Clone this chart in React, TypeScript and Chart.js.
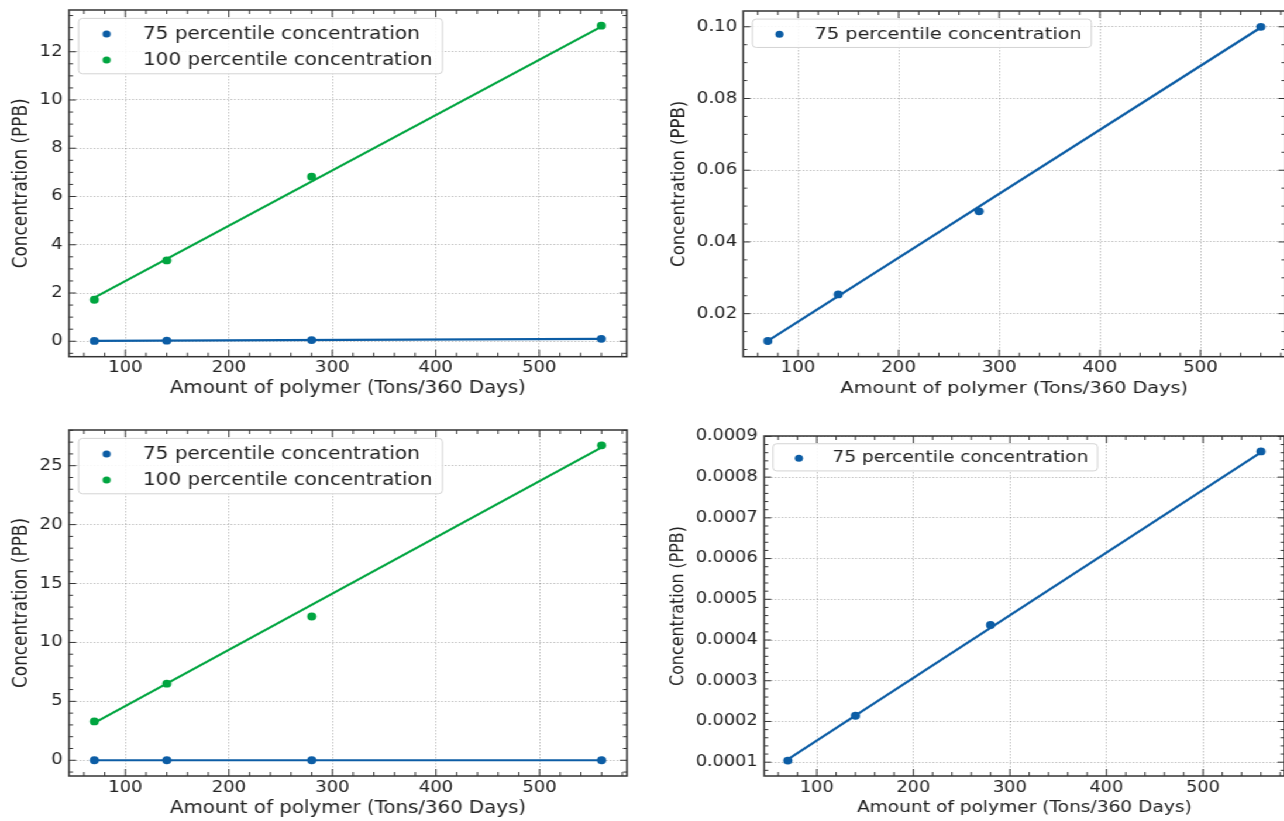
import React, { useEffect, useRef } from 'react';
import { Chart, registerables } from 'chart.js';

Chart.register(...registerables);
Chart.defaults.font.family = "'DejaVu Sans', 'Noto Sans', sans-serif";
Chart.defaults.color = '#222222';

// horizontal stretch of the reference picture
const SX = 1.17;

const BLUE = '#0C5DA5';
const GREEN = '#00A540';
const INK = '#222222';
const FRAME = '#333333';
const GRID = 'rgba(0,0,0,0.24)';

const LABEL_P75 = '75 percentile concentration';
const LABEL_P100 = '100 percentile concentration';
const X_TITLE = 'Amount of polymer (Tons/360 Days)';
const Y_TITLE = 'Concentration (PPB)';

// ---- data ----
const POLYMER_TONS = [70, 140, 280, 560];
const FIT_TONS = [70, 560];
const X_RANGE = [45.5, 584.5];
const X_TICKS = [100, 200, 300, 400, 500];
const X_TICK_LABELS = ['100', '200', '300', '400', '500'];

// Panel A (top-left)
const A_P75 = [0.0124, 0.0254, 0.0487, 0.1];
const A_P100 = [1.72, 3.35, 6.82, 13.08];
const A_P75_FIT = [0.0124, 0.0998];
const A_P100_FIT = [1.81, 13.04];
const A_Y_RANGE = [-0.64, 13.73];
const A_Y_TICKS = [0, 2, 4, 6, 8, 10, 12];
const A_Y_TICK_LABELS = ['0', '2', '4', '6', '8', '10', '12'];

// Panel B (top-right)
const B_P75 = [0.01238, 0.02537, 0.04854, 0.1];
const B_P75_FIT = [0.0124, 0.0998];
const B_Y_RANGE = [0.008, 0.1044];
const B_Y_TICKS = [0.02, 0.04, 0.06, 0.08, 0.1];
const B_Y_TICK_LABELS = ['0.02', '0.04', '0.06', '0.08', '0.10'];

// Panel C (bottom-left)
const C_P75 = [0.000104, 0.000214, 0.000437, 0.000863];
const C_P100 = [3.3, 6.5, 12.2, 26.73];
const C_P75_FIT = [0.000107, 0.000861];
const C_P100_FIT = [3.17, 26.56];
const C_Y_RANGE = [-1.335, 28.03];
const C_Y_TICKS = [0, 5, 10, 15, 20, 25];
const C_Y_TICK_LABELS = ['0', '5', '10', '15', '20', '25'];

// Panel D (bottom-right)
const D_P75 = [0.000104, 0.000214, 0.000437, 0.000863];
const D_P75_FIT = [0.000107, 0.000861];
const D_Y_RANGE = [0.0000661, 0.000901];
const D_Y_TICKS = [0.0001, 0.0002, 0.0003, 0.0004, 0.0005, 0.0006, 0.0007, 0.0008, 0.0009];
const D_Y_TICK_LABELS = ['0.0001', '0.0002', '0.0003', '0.0004', '0.0005', '0.0006', '0.0007', '0.0008', '0.0009'];

type Series = { label?: string; xs: number[]; ys: number[]; color: string; fit: boolean };

type PanelDef = {
  left: number; top: number; width: number; height: number;
  plotLeft: number; plotRight: number; plotTop: number; plotBottom: number;
  yTitleX: number; xTitleY: number; xLabelOffset: number; yLabelGap: number;
  tickFont: number; titleFont: number; legendFont: number;
  yRange: number[]; yTicks: number[]; yTickLabels: string[];
  series: Series[];
};

const PANELS: PanelDef[] = [
  {
    left: 0, top: 0, width: 640, height: 402,
    plotLeft: 69, plotRight: 626.7, plotTop: 10, plotBottom: 356.7,
    yTitleX: 21.5, xTitleY: 389, xLabelOffset: 11.6, yLabelGap: 6.5,
    tickFont: 15.4, titleFont: 16.9, legendFont: 17.1,
    yRange: A_Y_RANGE, yTicks: A_Y_TICKS, yTickLabels: A_Y_TICK_LABELS,
    series: [
      { label: LABEL_P75, xs: POLYMER_TONS, ys: A_P75, color: BLUE, fit: false },
      { label: LABEL_P100, xs: POLYMER_TONS, ys: A_P100, color: GREEN, fit: false },
      { xs: FIT_TONS, ys: A_P75_FIT, color: BLUE, fit: true },
      { xs: FIT_TONS, ys: A_P100_FIT, color: GREEN, fit: true },
    ],
  },
  {
    left: 660, top: 0, width: 640, height: 402,
    plotLeft: 743.3, plotRight: 1285.6, plotTop: 11, plotBottom: 356.7,
    yTitleX: 679.4, xTitleY: 389, xLabelOffset: 11.6, yLabelGap: 6,
    tickFont: 15.5, titleFont: 16.5, legendFont: 16.5,
    yRange: B_Y_RANGE, yTicks: B_Y_TICKS, yTickLabels: B_Y_TICK_LABELS,
    series: [
      { label: LABEL_P75, xs: POLYMER_TONS, ys: B_P75, color: BLUE, fit: false },
      { xs: FIT_TONS, ys: B_P75_FIT, color: BLUE, fit: true },
    ],
  },
  {
    left: 0, top: 420, width: 640, height: 401,
    plotLeft: 69, plotRight: 627, plotTop: 430, plotBottom: 776,
    yTitleX: 21.5, xTitleY: 808.5, xLabelOffset: 11.6, yLabelGap: 6.5,
    tickFont: 15.4, titleFont: 16.9, legendFont: 17.1,
    yRange: C_Y_RANGE, yTicks: C_Y_TICKS, yTickLabels: C_Y_TICK_LABELS,
    series: [
      { label: LABEL_P75, xs: POLYMER_TONS, ys: C_P75, color: BLUE, fit: false },
      { label: LABEL_P100, xs: POLYMER_TONS, ys: C_P100, color: GREEN, fit: false },
      { xs: FIT_TONS, ys: C_P75_FIT, color: BLUE, fit: true },
      { xs: FIT_TONS, ys: C_P100_FIT, color: GREEN, fit: true },
    ],
  },
  {
    left: 660, top: 420, width: 640, height: 401,
    plotLeft: 764.3, plotRight: 1284.7, plotTop: 436, plotBottom: 776,
    yTitleX: 679, xTitleY: 808, xLabelOffset: 12, yLabelGap: 6.6,
    tickFont: 15.1, titleFont: 15.9, legendFont: 15.8,
    yRange: D_Y_RANGE, yTicks: D_Y_TICKS, yTickLabels: D_Y_TICK_LABELS,
    series: [
      { label: LABEL_P75, xs: POLYMER_TONS, ys: D_P75, color: BLUE, fit: false },
      { xs: FIT_TONS, ys: D_P75_FIT, color: BLUE, fit: true },
    ],
  },
];

function minorValues(min: number, max: number, step: number): number[] {
  const exp = Math.floor(Math.log10(step));
  const mant = step / Math.pow(10, exp);
  const ndiv = [1, 2.5, 5, 10].some((v) => Math.abs(mant - v) < 1e-6) ? 5 : 4;
  const m = step / ndiv;
  const out: number[] = [];
  const k0 = Math.ceil(min / m - 1e-9);
  const k1 = Math.floor(max / m + 1e-9);
  for (let k = k0; k <= k1; k++) {
    const v = k * m;
    const r = v / step;
    if (Math.abs(r - Math.round(r)) < 1e-6) continue;
    out.push(v);
  }
  return out;
}

function makeDecor(p: PanelDef) {
  return {
    id: 'decor',
    afterDatasetsDraw(chart: any) {
      const { ctx, chartArea: a } = chart;
      const xs = chart.scales.x;
      const ys = chart.scales.y;
      ctx.save();
      ctx.strokeStyle = FRAME;
      ctx.lineWidth = 1;
      ctx.beginPath();
      const vTick = (v: number, len: number) => {
        const px = xs.getPixelForValue(v);
        if (px < a.left - 0.5 || px > a.right + 0.5) return;
        ctx.moveTo(px, a.bottom);
        ctx.lineTo(px, a.bottom - len);
        ctx.moveTo(px, a.top);
        ctx.lineTo(px, a.top + len);
      };
      const hTick = (v: number, len: number) => {
        const py = ys.getPixelForValue(v);
        if (py < a.top - 0.5 || py > a.bottom + 0.5) return;
        ctx.moveTo(a.left, py);
        ctx.lineTo(a.left + len, py);
        ctx.moveTo(a.right, py);
        ctx.lineTo(a.right - len, py);
      };
      X_TICKS.forEach((v) => vTick(v, 7));
      minorValues(xs.min, xs.max, X_TICKS[1] - X_TICKS[0]).forEach((v) => vTick(v, 4));
      p.yTicks.forEach((v) => hTick(v, 6));
      minorValues(ys.min, ys.max, p.yTicks[1] - p.yTicks[0]).forEach((v) => hTick(v, 3.4));
      ctx.stroke();
      ctx.lineWidth = 1.5;
      ctx.strokeRect(a.left, a.top, a.right - a.left, a.bottom - a.top);
      ctx.restore();
    },
    afterDraw(chart: any) {
      const { ctx, chartArea: a } = chart;
      const f = p.legendFont;
      const items = p.series.filter((s) => !s.fit && s.label);
      ctx.save();
      ctx.font = `${f}px 'DejaVu Sans', sans-serif`;
      const maxW = Math.max(...items.map((s) => ctx.measureText(s.label as string).width));
      const bx = a.left + 0.48 * f;
      const by = a.top + 0.49 * f;
      const rowH = 1.52 * f;
      const textX = a.left + 3.7 * f;
      const markX = a.left + 1.88 * f;
      const bw = textX + maxW + 0.5 * f - bx;
      const bh = 0.9 * f + (items.length - 1) * rowH + 0.82 * f;
      ctx.beginPath();
      if ((ctx as any).roundRect) (ctx as any).roundRect(bx, by, bw, bh, 0.2 * f);
      else ctx.rect(bx, by, bw, bh);
      ctx.fillStyle = 'rgba(255,255,255,0.85)';
      ctx.fill();
      ctx.strokeStyle = '#d4d4d4';
      ctx.lineWidth = 1;
      ctx.stroke();
      items.forEach((s, i) => {
        const cy = by + 0.92 * f + i * rowH;
        ctx.beginPath();
        ctx.fillStyle = s.color;
        ctx.arc(markX, cy, 3.5, 0, Math.PI * 2);
        ctx.fill();
        ctx.fillStyle = INK;
        ctx.textAlign = 'left';
        ctx.textBaseline = 'middle';
        ctx.fillText(s.label as string, textX, cy);
      });
      ctx.restore();
    },
  };
}

function PanelChart({ p }: { p: PanelDef }) {
  const ref = useRef<HTMLCanvasElement>(null);
  useEffect(() => {
    if (!ref.current) return;
    const yScaleWidth = (p.plotLeft - p.left) / SX;
    const padRight = (p.left + p.width - p.plotRight) / SX;
    const padTop = p.plotTop - p.top;
    const xScaleHeight = p.top + p.height - p.plotBottom;
    const yTitlePad = (p.yTitleX - p.left) / SX - p.titleFont * 0.6;
    const xTitlePad = p.top + p.height - p.xTitleY - p.titleFont * 0.6;
    const xTickPad = p.xLabelOffset - p.tickFont * 0.6;
    const yTickPad = p.yLabelGap / SX;

    const datasets = p.series.map((s) => ({
      label: s.label ?? '',
      data: s.xs.map((x, i) => ({ x, y: s.ys[i] })),
      showLine: s.fit,
      borderColor: s.color,
      backgroundColor: s.color,
      borderWidth: s.fit ? 2.2 : 0,
      pointRadius: s.fit ? 0 : 3.9,
      pointBorderWidth: 0,
      pointBackgroundColor: s.color,
      order: s.fit ? 1 : 0,
    }));

    const chart = new Chart(ref.current, {
      type: 'scatter',
      data: { datasets },
      options: {
        animation: false,
        responsive: true,
        maintainAspectRatio: false,
        layout: { padding: { top: padTop, right: padRight, bottom: 0, left: 0 } },
        plugins: { legend: { display: false }, tooltip: { enabled: false } },
        scales: {
          x: {
            type: 'linear',
            position: 'bottom',
            min: X_RANGE[0],
            max: X_RANGE[1],
            afterBuildTicks: (s: any) => { s.ticks = X_TICKS.map((v) => ({ value: v })); },
            afterFit: (s: any) => { s.height = xScaleHeight; s.paddingLeft = 0; s.paddingRight = 0; },
            ticks: {
              autoSkip: false,
              maxRotation: 0,
              padding: xTickPad,
              color: INK,
              font: { size: p.tickFont },
              callback: (_v: any, i: number) => X_TICK_LABELS[i],
            },
            grid: { color: GRID, lineWidth: 1, drawTicks: false },
            border: { display: false, dash: [1.5, 1.5] },
            title: {
              display: true,
              text: X_TITLE,
              color: INK,
              font: { size: p.titleFont },
              padding: { top: 0, bottom: xTitlePad },
            },
          },
          y: {
            type: 'linear',
            position: 'left',
            min: p.yRange[0],
            max: p.yRange[1],
            afterBuildTicks: (s: any) => { s.ticks = p.yTicks.map((v) => ({ value: v })); },
            afterFit: (s: any) => { s.width = yScaleWidth; s.paddingTop = 0; s.paddingBottom = 0; },
            ticks: {
              autoSkip: false,
              padding: yTickPad,
              color: INK,
              font: { size: p.tickFont },
              callback: (_v: any, i: number) => p.yTickLabels[i],
            },
            grid: { color: GRID, lineWidth: 1, drawTicks: false },
            border: { display: false, dash: [1.5, 1.5] },
            title: {
              display: true,
              text: Y_TITLE,
              color: INK,
              font: { size: p.titleFont },
              padding: { top: yTitlePad, bottom: 0 },
            },
          },
        },
      } as any,
      plugins: [makeDecor(p)],
    });
    return () => chart.destroy();
  }, [p]);

  return (
    <div
      style={{
        position: 'absolute',
        left: p.left / SX,
        top: p.top,
        width: p.width / SX,
        height: p.height,
      }}
    >
      <canvas ref={ref} style={{ display: 'block' }} />
    </div>
  );
}

export default function App() {
  return (
    <div
      style={{
        position: 'absolute',
        left: 0,
        top: 0,
        width: 1284,
        height: 821,
        overflow: 'hidden',
        background: '#ffffff',
      }}
    >
      <div
        style={{
          position: 'absolute',
          left: 0,
          top: 0,
          width: 1300 / SX,
          height: 821,
          transform: `scaleX(${SX})`,
          transformOrigin: '0 0',
        }}
      >
        {PANELS.map((p, i) => (
          <PanelChart key={i} p={p} />
        ))}
      </div>
    </div>
  );
}
